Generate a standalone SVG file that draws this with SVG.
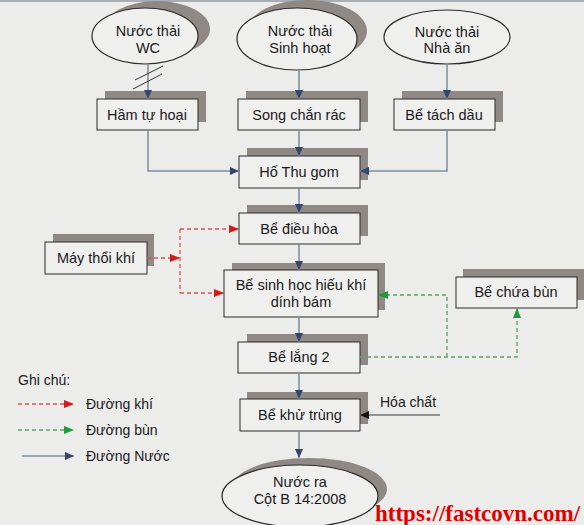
<svg xmlns="http://www.w3.org/2000/svg" width="584" height="525" viewBox="0 0 584 525">
<defs>
<style>
.t{font-family:"Liberation Sans",Arial,sans-serif;font-size:14.5px;fill:#1a1a1a;text-anchor:middle}
.lt{font-family:"Liberation Sans",Arial,sans-serif;font-size:14px;fill:#1a1a1a}
.box{fill:#efefee;stroke:#2a2a2a;stroke-width:1}
.sh{fill:#8e8985}
.ell{fill:#efefee;stroke:#2a2a2a;stroke-width:1.2}
.w{fill:none;stroke:#7e8c9e;stroke-width:1.5}
.r{fill:none;stroke:#d9534f;stroke-width:1.3;stroke-dasharray:4 3}
.g{fill:none;stroke:#5aa36a;stroke-width:1.3;stroke-dasharray:4 3}
</style>
<marker id="aw" markerUnits="userSpaceOnUse" markerWidth="10" markerHeight="10" refX="9" refY="5" orient="auto"><path d="M0,1 L9,5 L0,9 Z" fill="#34476b"/></marker>
<marker id="ar" markerUnits="userSpaceOnUse" markerWidth="11" markerHeight="10" refX="10" refY="5" orient="auto"><path d="M0,1 L10,5 L0,9 Z" fill="#d41a1a"/></marker>
<marker id="ag" markerUnits="userSpaceOnUse" markerWidth="11" markerHeight="10" refX="10" refY="5" orient="auto"><path d="M0,1 L10,5 L0,9 Z" fill="#1f9a3a"/></marker>
<marker id="ak" markerUnits="userSpaceOnUse" markerWidth="10" markerHeight="10" refX="9" refY="5" orient="auto"><path d="M0,1 L9,5 L0,9 Z" fill="#111"/></marker>
</defs>
<rect width="584" height="525" fill="#ececeb"/>
<line x1="0" y1="1" x2="584" y2="1" stroke="#a7aeb6" stroke-width="2"/>

<g id="n-wc">
<ellipse class="sh" cx="157" cy="29" rx="53" ry="28"/>
<ellipse class="ell" cx="145" cy="36" rx="53" ry="28"/>
<text class="t" x="148" y="36">Nước thải</text>
<text class="t" x="148" y="53">WC</text>
</g>
<g id="n-sinhhoat">
<ellipse class="sh" cx="307" cy="31" rx="60" ry="31"/>
<ellipse class="ell" cx="297" cy="39" rx="60" ry="31"/>
<text class="t" x="300" y="36">Nước thải</text>
<text class="t" x="300" y="53">Sinh hoạt</text>
</g>
<g id="n-nhaan">
<ellipse class="ell" cx="447" cy="37" rx="63" ry="27"/>
<text class="t" x="447" y="37">Nước thải</text>
<text class="t" x="447" y="53">Nhà ăn</text>
</g>

<g id="n-ham">
<rect class="sh" x="105" y="91" width="101" height="31"/>
<rect class="box" x="97" y="99" width="101" height="31"/>
<text class="t" x="147" y="120">Hầm tự hoại</text>
</g>
<g id="n-song">
<rect class="sh" x="246" y="91" width="122" height="31"/>
<rect class="box" x="238" y="99" width="122" height="31"/>
<text class="t" x="299" y="120">Song chắn rác</text>
</g>
<g id="n-tachdau">
<rect class="sh" x="402" y="91" width="101" height="31"/>
<rect class="box" x="394" y="99" width="101" height="31"/>
<text class="t" x="444" y="120">Bể tách dầu</text>
</g>
<g id="n-hothugom">
<rect class="sh" x="247" y="148" width="121" height="32"/>
<rect class="box" x="239" y="156" width="121" height="32"/>
<text class="t" x="299" y="177">Hố Thu gom</text>
</g>
<g id="n-dieuhoa">
<rect class="sh" x="247" y="205" width="121" height="31"/>
<rect class="box" x="239" y="213" width="121" height="31"/>
<text class="t" x="299" y="234">Bể điều hòa</text>
</g>
<g id="n-maythoi">
<rect class="sh" x="53" y="234" width="101" height="32"/>
<rect class="box" x="45" y="242" width="102" height="32"/>
<text class="t" x="96" y="263">Máy thổi khí</text>
</g>
<g id="n-sinhhoc">
<rect class="sh" x="232" y="263" width="153" height="47"/>
<rect class="box" x="224" y="270" width="154" height="47"/>
<text class="t" x="301" y="290">Bể sinh học hiếu khí</text>
<text class="t" x="301" y="307">dính bám</text>
</g>
<g id="n-chuabun">
<rect class="sh" x="463" y="269" width="121" height="31"/>
<rect class="box" x="456" y="277" width="121" height="31"/>
<text class="t" x="516" y="297">Bể chứa bùn</text>
</g>
<g id="n-lang2">
<rect class="sh" x="247" y="334" width="121" height="31"/>
<rect class="box" x="238" y="342" width="122" height="31"/>
<text class="t" x="299" y="362">Bể lắng 2</text>
</g>
<g id="n-khutrung">
<rect class="sh" x="247" y="392" width="121" height="32"/>
<rect class="box" x="240" y="399" width="120" height="32"/>
<text class="t" x="300" y="420">Bể khử trùng</text>
</g>
<g id="n-hoachat">
<text class="lt" x="380" y="407">Hóa chất</text>
</g>
<g id="n-nuocra">
<ellipse class="sh" cx="309" cy="489" rx="78" ry="31"/>
<ellipse class="ell" cx="300" cy="496" rx="78" ry="31"/>
<text class="t" x="300" y="487">Nước ra</text>
<text class="t" x="300" y="504">Cột B 14:2008</text>
</g>

<g id="connectors">
<path class="w" d="M148,64 V99" marker-end="url(#aw)"/>
<path class="w" d="M299,71 V99" marker-end="url(#aw)"/>
<path class="w" d="M447,64 V99" marker-end="url(#aw)"/>
<path class="w" d="M148,130 V171 H239" marker-end="url(#aw)"/>
<path class="w" d="M299,130 V156" marker-end="url(#aw)"/>
<path class="w" d="M447,130 V171 H360" marker-end="url(#aw)"/>
<path class="w" d="M299,188 V213" marker-end="url(#aw)"/>
<path class="w" d="M299,244 V270" marker-end="url(#aw)"/>
<path class="w" d="M299,317 V342" marker-end="url(#aw)"/>
<path class="w" d="M299,373 V399" marker-end="url(#aw)"/>
<path class="w" d="M299,431 V458" marker-end="url(#aw)"/>
<path d="M440,415 H360" fill="none" stroke="#777" stroke-width="1.5" marker-end="url(#ak)"/>
<line x1="133" y1="89" x2="162" y2="74" stroke="#333" stroke-width="1"/>
<line x1="135" y1="80" x2="163" y2="66" stroke="#333" stroke-width="1"/>
<path class="r" d="M147,258 H180" marker-end="url(#ar)"/>
<path class="r" d="M180,229 V293"/>
<path class="r" d="M180,229 H239" marker-end="url(#ar)"/>
<path class="r" d="M180,293 H224" marker-end="url(#ar)"/>
<path class="g" d="M360,357 H517 V308" marker-end="url(#ag)"/>
<path class="g" d="M447,357 V295 H378" marker-end="url(#ag)"/>
</g>

<g id="legend">
<text class="lt" x="18" y="385">Ghi chú:</text>
<path class="r" d="M18,404 H74" marker-end="url(#ar)"/>
<text class="lt" x="86" y="409">Đường khí</text>
<path class="g" d="M18,430 H74" marker-end="url(#ag)"/>
<text class="lt" x="86" y="435">Đường bùn</text>
<path class="w" d="M22,456 H74" marker-end="url(#aw)"/>
<text class="lt" x="86" y="461">Đường Nước</text>
</g>
<text x="375" y="521" font-family="'Liberation Serif','Times New Roman',serif" font-weight="bold" font-size="23" fill="#e00000">https://fastcovn.com/</text>
</svg>
